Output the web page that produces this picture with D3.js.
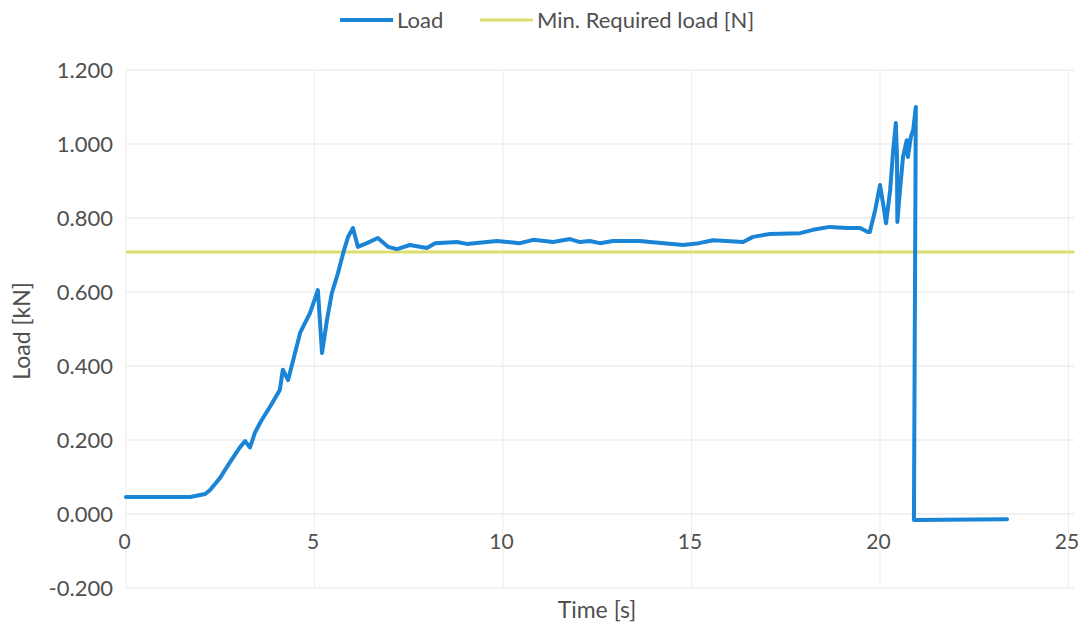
<!DOCTYPE html>
<html>
<head>
<meta charset="utf-8">
<script src="https://cdn.jsdelivr.net/npm/d3@7"></script>
<style>
  html, body { margin: 0; padding: 0; background: #ffffff; }
  svg { display: block; }
  text { font-family: "Lato", "Open Sans", sans-serif; fill: #505050; }
</style>
</head>
<body>
<svg id="chart" width="1083" height="626"></svg>
<script>
// ---- data ----
const seriesNames = ["Load", "Min. Required load [N]"];
const loadTime = [0, 1.7, 2.1, 2.23, 2.49, 2.76, 3.02, 3.16, 3.29, 3.42, 3.6, 3.82, 4.08, 4.16, 4.3, 4.62, 4.88, 5.09, 5.2, 5.33, 5.46, 5.62, 5.76, 5.89, 6.02, 6.15, 6.39, 6.68, 6.95, 7.19, 7.53, 7.98, 8.2, 8.78, 9.04, 9.84, 10.45, 10.8, 11.33, 11.78, 12.04, 12.3, 12.57, 12.92, 13.63, 13.9, 14.78, 15.2, 15.57, 16.37, 16.63, 17.08, 17.88, 18.22, 18.67, 19.12, 19.47, 19.68, 19.73, 19.87, 20.0, 20.08, 20.16, 20.27, 20.35, 20.42, 20.45, 20.46, 20.53, 20.61, 20.71, 20.74, 20.82, 20.88, 20.95, 20.9, 23.37];
const loadValue = [0.046, 0.046, 0.054, 0.065, 0.097, 0.14, 0.18, 0.197, 0.18, 0.22, 0.254, 0.29, 0.335, 0.39, 0.362, 0.49, 0.543, 0.605, 0.435, 0.524, 0.597, 0.65, 0.705, 0.749, 0.773, 0.722, 0.732, 0.746, 0.722, 0.716, 0.727, 0.719, 0.732, 0.735, 0.73, 0.738, 0.732, 0.741, 0.735, 0.743, 0.735, 0.738, 0.732, 0.738, 0.738, 0.735, 0.727, 0.732, 0.74, 0.735, 0.749, 0.757, 0.759, 0.768, 0.776, 0.773, 0.773, 0.762, 0.762, 0.82, 0.889, 0.84, 0.786, 0.876, 0.984, 1.057, 0.965, 0.789, 0.876, 0.965, 1.01, 0.965, 1.02, 1.038, 1.1, -0.016, -0.014];
const minTime = [0, 25];
const minValue = [0.708, 0.708];
const xTicks = [0, 5, 10, 15, 20, 25];
const yTicks = [-0.2, 0, 0.2, 0.4, 0.6, 0.8, 1.0, 1.2];
const xTitle = "Time [s]";
const yTitle = "Load [kN]";

// ---- layout ----
const svg = d3.select("#chart");
const mLeft = 126, mRight = 1068.5, mTop = 70, mBottom = 588;
const x = d3.scaleLinear().domain([0, 25]).range([mLeft, mRight]);
const y = d3.scaleLinear().domain([-0.2, 1.2]).range([mBottom, mTop]);
const fmt3 = d3.format(".3f");

// gridlines
const grid = svg.append("g");
grid.selectAll("line.h").data(yTicks).join("line").attr("class", "h")
  .attr("x1", mLeft).attr("x2", mRight + 6)
  .attr("y1", d => y(d)).attr("y2", d => y(d))
  .attr("stroke", "#e4e4e4").attr("stroke-width", 1.2);
grid.selectAll("line.v").data(xTicks).join("line").attr("class", "v")
  .attr("x1", d => x(d)).attr("x2", d => x(d))
  .attr("y1", mTop).attr("y2", mBottom)
  .attr("stroke", "#eeeeee").attr("stroke-width", 1.2);

// y axis labels
const yAxis = d3.axisLeft(y).tickValues(yTicks).tickSize(0).tickPadding(0)
  .tickFormat(d => fmt3(d).replace("\u2212", "-"));
svg.append("g").attr("transform", `translate(${mLeft - 13},0)`).call(yAxis)
  .call(g => g.select(".domain").remove())
  .selectAll("text").style("font-size", "22px").attr("fill", "#505050")
  .style("font-family", "Lato, 'Open Sans', sans-serif");

// x axis labels (crossing at y=0)
const xAxis = d3.axisBottom(x).tickValues(xTicks).tickSize(0).tickPadding(0)
  .tickFormat(d3.format("d"));
svg.append("g").attr("transform", `translate(-2,${y(0) + 20})`).call(xAxis)
  .call(g => g.select(".domain").remove())
  .selectAll("text").style("font-size", "21px").attr("fill", "#505050")
  .style("font-family", "Lato, 'Open Sans', sans-serif");

// axis titles
svg.append("text").attr("x", 597).attr("y", 618).attr("text-anchor", "middle")
  .style("font-size", "23px").text(xTitle);
svg.append("text").attr("transform", "translate(30,331) rotate(-90)")
  .attr("text-anchor", "middle").style("font-size", "23px").text(yTitle);

// lines
const minData = minTime.map((t, i) => [t, minValue[i]]);
const loadData = loadTime.map((t, i) => [t, loadValue[i]]);
const lineGen = d3.line().x(d => x(d[0])).y(d => y(d[1]));

svg.append("path").datum(minData).attr("d", d3.line().x(d => d[0] === 25 ? x(d[0]) + 6 : x(d[0])).y(d => y(d[1])))
  .attr("fill", "none").attr("stroke", "#d9de6e").attr("stroke-width", 3);
svg.append("path").datum(loadData).attr("d", lineGen.curve(d3.curveLinear))
  .attr("fill", "none").attr("stroke", "#1a84d6").attr("stroke-width", 4)
  .attr("stroke-linejoin", "round").attr("stroke-linecap", "round");

// legend
const legend = svg.append("g");
const legItems = [
  {name: seriesNames[0], color: "#1a84d6", w: 4, x0: 340},
  {name: seriesNames[1], color: "#d9de6e", w: 3, x0: 480}
];
legItems.forEach(it => {
  legend.append("line").attr("x1", it.x0).attr("x2", it.x0 + 53)
    .attr("y1", 20).attr("y2", 20).attr("stroke", it.color).attr("stroke-width", it.w);
  legend.append("text").attr("x", it.x0 + 57).attr("y", 28)
    .style("font-size", "22px").text(it.name);
});
</script>
</body>
</html>
